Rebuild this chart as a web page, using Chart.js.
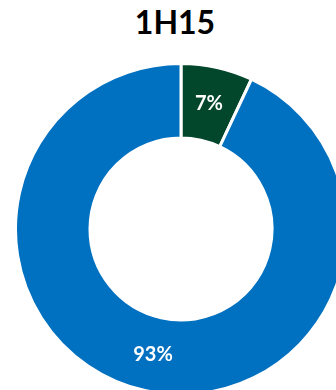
<!DOCTYPE html>
<html lang="en">
<head>
    <meta charset="UTF-8">
    <title>1H15</title>
    <script src="https://cdn.jsdelivr.net/npm/chart.js"></script>
    <style>
        body, html {
            margin: 0;
            width: 336px;
            height: 390px;
            overflow: hidden;
            background: #ffffff;
            font-family: 'Lato', sans-serif;
        }
        h1 {
            position: absolute;
            left: 0;
            top: 0;
            width: 350px;
            margin: 0;
            text-align: center;
            font-size: 32px;
            line-height: 44px;
            font-weight: 700;
            color: #000000;
        }
        .chart-box {
            position: absolute;
            left: 14px;
            top: 62px;
            width: 334px;
            height: 334px;
        }
    </style>
</head>
<body>
    <h1 id="title">1H15</h1>
    <div class="chart-box">
        <canvas id="shareChart"></canvas>
    </div>

    <script>
        const categories = ['Other', 'Main'];
        const shares = [7, 93];
        const colors = ['#02472B', '#0070C0'];

        // writes the percentage in the middle of each slice
        const sliceLabels = {
            id: 'sliceLabels',
            afterDatasetsDraw(chart) {
                const ctx = chart.ctx;
                const meta = chart.getDatasetMeta(0);
                ctx.save();
                ctx.fillStyle = '#ffffff';
                ctx.font = 'bold 20px Lato';
                ctx.textAlign = 'center';
                ctx.textBaseline = 'middle';
                meta.data.forEach((arc, i) => {
                    const pos = arc.tooltipPosition();
                    ctx.fillText(shares[i] + '%', pos.x, pos.y);
                });
                ctx.restore();
            }
        };

        const ctx = document.getElementById('shareChart').getContext('2d');
        new Chart(ctx, {
            type: 'doughnut',
            data: {
                labels: categories,
                datasets: [{
                    data: shares,
                    backgroundColor: colors,
                    borderColor: '#ffffff',
                    borderWidth: 3
                }]
            },
            options: {
                responsive: true,
                maintainAspectRatio: false,
                animation: false,
                cutout: '55%',
                layout: { padding: 0 },
                plugins: {
                    legend: { display: false },
                    tooltip: { enabled: false }
                }
            },
            plugins: [sliceLabels]
        });
    </script>
</body>
</html>
